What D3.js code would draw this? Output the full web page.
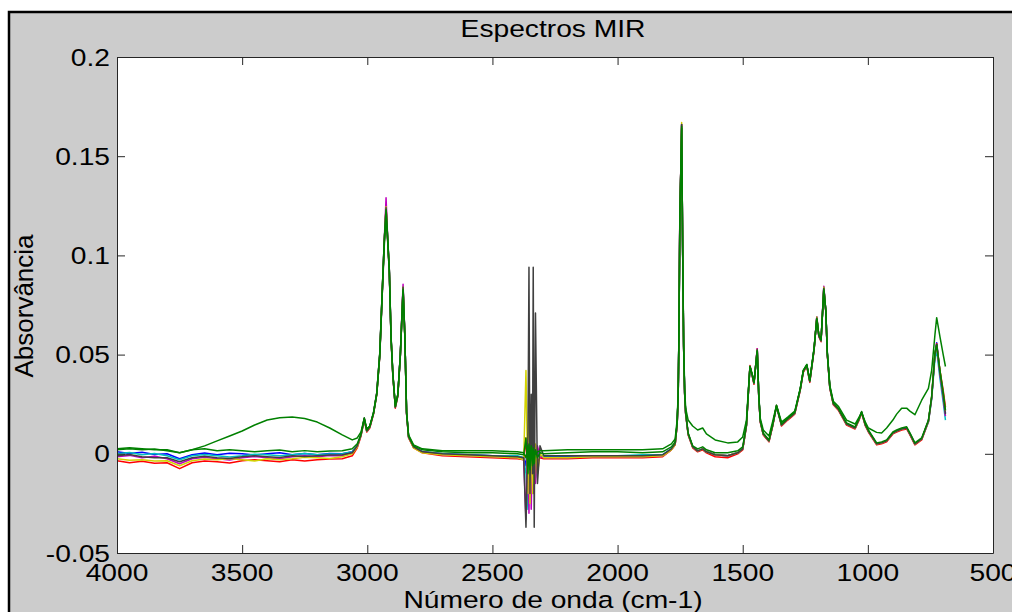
<!DOCTYPE html>
<html>
<head>
<meta charset="utf-8">
<script src="https://cdn.jsdelivr.net/npm/d3@7"></script>
<style>
  html, body { margin: 0; padding: 0; background: #ffffff; overflow: hidden; }
  svg { display: block; }
</style>
</head>
<body>
<svg id="chart" width="1012" height="612"></svg>
<script>
// wavenumbers (cm-1), shared by every spectrum
const wavenumbers = [
  4000, 3950, 3900, 3850, 3800, 3750, 3700, 3650, 3600, 3550, 3500, 3450, 3400, 3350, 3300, 3250, 3200, 3150,
  3100, 3060, 3040, 3025, 3012, 3002, 2990, 2975, 2962, 2950,
  2940, 2932, 2925, 2919, 2912, 2905, 2898, 2888, 2878, 2868,
  2857, 2850, 2843, 2835, 2815, 2780, 2700, 2600, 2500, 2400,
  2375, 2366, 2358, 2354, 2350, 2345, 2340, 2337, 2333, 2328,
  2320, 2310, 2295, 2200, 2100, 2000, 1900, 1820, 1785, 1770,
  1762, 1758, 1755, 1751, 1747, 1744, 1740, 1736, 1732, 1728,
  1718, 1700, 1680, 1660, 1645, 1610, 1560, 1520, 1500, 1485,
  1478, 1471, 1462, 1455, 1442, 1436, 1430, 1418, 1395, 1380,
  1365, 1345, 1320, 1292, 1270, 1258, 1244, 1232, 1215, 1204,
  1196, 1187, 1176, 1168, 1162, 1152, 1138, 1118, 1085, 1051,
  1035, 1025, 1010, 998, 965, 945, 925, 900, 885, 865,
  845, 832, 812, 785, 758, 745, 732, 725, 712, 699,
  690
];

const spectrumBlue = [
  0.0010, 0.0002, 0.0008, -0.0004, 0.0000, -0.0025, -0.0005, 0.0004, -0.0005, 0.0003, 0.0000, -0.0006, 0.0000, 0.0005, -0.0005, 0.0002, -0.0005, 0.0002,
  0.0000, 0.0010, 0.0040, 0.0095, 0.0175, 0.0115, 0.0135, 0.0205, 0.0305, 0.0500,
  0.0820, 0.1070, 0.1240, 0.1090, 0.0920, 0.0580, 0.0400, 0.0235, 0.0295, 0.0495,
  0.0840, 0.0595, 0.0205, 0.0085, 0.0035, 0.0010, 0.0000, -0.0005, -0.0010, -0.0015,
  -0.0020, -0.0060, 0.0100, -0.0120, 0.0060, -0.0100, 0.0050, -0.0080, 0.0040, -0.0050,
  0.0020, -0.0010, -0.0015, -0.0015, -0.0010, -0.0010, -0.0010, -0.0005, 0.0025, 0.0050,
  0.0150, 0.0285, 0.0575, 0.1220, 0.1440, 0.1660, 0.1035, 0.0535, 0.0305, 0.0205,
  0.0100, 0.0035, 0.0015, 0.0025, 0.0010, -0.0005, -0.0010, 0.0005, 0.0025, 0.0145,
  0.0295, 0.0435, 0.0395, 0.0355, 0.0525, 0.0295, 0.0165, 0.0100, 0.0065, 0.0145,
  0.0245, 0.0145, 0.0175, 0.0205, 0.0325, 0.0415, 0.0445, 0.0365, 0.0525, 0.0690,
  0.0595, 0.0570, 0.0840, 0.0720, 0.0505, 0.0335, 0.0252, 0.0225, 0.0150, 0.0130,
  0.0175, 0.0210, 0.0145, 0.0115, 0.0050, 0.0055, 0.0065, 0.0105, 0.0115, 0.0125,
  0.0130, 0.0100, 0.0050, 0.0075, 0.0165, 0.0285, 0.0505, 0.0560, 0.0415, 0.0300,
  0.0205
];

const spectrumRed = [
  -0.0035, -0.0045, -0.0038, -0.0048, -0.0045, -0.0075, -0.0045, -0.0036, -0.0040, -0.0046, -0.0035, -0.0030, -0.0035, -0.0040, -0.0030, -0.0036, -0.0030, -0.0026,
  -0.0025, -0.0010, 0.0030, 0.0090, 0.0170, 0.0110, 0.0130, 0.0200, 0.0300, 0.0495,
  0.0815, 0.1065, 0.1250, 0.1085, 0.0915, 0.0575, 0.0395, 0.0230, 0.0290, 0.0490,
  0.0835, 0.0590, 0.0200, 0.0080, 0.0030, 0.0005, -0.0010, -0.0015, -0.0020, -0.0025,
  -0.0030, 0.0080, -0.0150, 0.0070, -0.0200, 0.0050, -0.0120, 0.0060, -0.0080, 0.0030,
  -0.0040, -0.0020, -0.0025, -0.0025, -0.0020, -0.0020, -0.0020, -0.0015, 0.0020, 0.0045,
  0.0145, 0.0280, 0.0570, 0.1230, 0.1445, 0.1655, 0.1030, 0.0530, 0.0300, 0.0200,
  0.0095, 0.0030, 0.0010, 0.0020, 0.0005, -0.0015, -0.0020, 0.0000, 0.0020, 0.0140,
  0.0290, 0.0445, 0.0390, 0.0350, 0.0530, 0.0290, 0.0160, 0.0095, 0.0060, 0.0140,
  0.0240, 0.0140, 0.0170, 0.0200, 0.0320, 0.0410, 0.0440, 0.0360, 0.0520, 0.0685,
  0.0590, 0.0565, 0.0835, 0.0715, 0.0500, 0.0330, 0.0247, 0.0220, 0.0145, 0.0125,
  0.0170, 0.0205, 0.0140, 0.0110, 0.0045, 0.0050, 0.0060, 0.0100, 0.0110, 0.0120,
  0.0125, 0.0095, 0.0045, 0.0070, 0.0160, 0.0280, 0.0500, 0.0555, 0.0420, 0.0320,
  0.0235
];

const spectrumCyan = [
  0.0000, 0.0006, -0.0005, 0.0002, -0.0010, -0.0030, -0.0010, -0.0003, -0.0010, -0.0016, -0.0010, -0.0002, -0.0005, -0.0010, -0.0005, 0.0001, -0.0005, -0.0001,
  0.0000, 0.0010, 0.0040, 0.0095, 0.0175, 0.0115, 0.0135, 0.0205, 0.0305, 0.0505,
  0.0825, 0.1075, 0.1235, 0.1095, 0.0925, 0.0585, 0.0405, 0.0235, 0.0295, 0.0495,
  0.0835, 0.0595, 0.0205, 0.0085, 0.0035, 0.0010, 0.0000, -0.0005, -0.0010, -0.0010,
  -0.0020, -0.0100, -0.0280, 0.0050, -0.0150, -0.0220, 0.0040, -0.0180, 0.0020, -0.0120,
  0.0010, -0.0010, -0.0010, -0.0010, -0.0010, -0.0010, -0.0005, -0.0005, 0.0025, 0.0050,
  0.0150, 0.0285, 0.0575, 0.1225, 0.1445, 0.1660, 0.1035, 0.0535, 0.0305, 0.0205,
  0.0100, 0.0035, 0.0015, 0.0025, 0.0010, -0.0005, -0.0010, 0.0005, 0.0025, 0.0145,
  0.0295, 0.0440, 0.0395, 0.0355, 0.0525, 0.0295, 0.0165, 0.0100, 0.0065, 0.0145,
  0.0240, 0.0145, 0.0175, 0.0205, 0.0325, 0.0415, 0.0445, 0.0365, 0.0525, 0.0685,
  0.0595, 0.0570, 0.0835, 0.0720, 0.0505, 0.0335, 0.0252, 0.0225, 0.0150, 0.0130,
  0.0175, 0.0210, 0.0145, 0.0115, 0.0050, 0.0055, 0.0065, 0.0105, 0.0115, 0.0125,
  0.0130, 0.0100, 0.0050, 0.0075, 0.0160, 0.0275, 0.0480, 0.0520, 0.0380, 0.0260,
  0.0170
];

const spectrumMagenta = [
  -0.0015, -0.0008, -0.0020, -0.0012, -0.0025, -0.0050, -0.0025, -0.0018, -0.0025, -0.0031, -0.0020, -0.0014, -0.0020, -0.0025, -0.0015, -0.0010, -0.0015, -0.0008,
  -0.0010, 0.0005, 0.0035, 0.0095, 0.0180, 0.0115, 0.0135, 0.0205, 0.0310, 0.0505,
  0.0825, 0.1080, 0.1290, 0.1100, 0.0930, 0.0590, 0.0405, 0.0235, 0.0295, 0.0500,
  0.0855, 0.0600, 0.0205, 0.0085, 0.0035, 0.0010, -0.0005, -0.0010, -0.0015, -0.0020,
  -0.0030, -0.0330, 0.0100, -0.0300, 0.0080, -0.0280, 0.0050, -0.0200, 0.0060, -0.0150,
  0.0040, -0.0015, -0.0020, -0.0020, -0.0015, -0.0015, -0.0015, -0.0010, 0.0020, 0.0045,
  0.0145, 0.0280, 0.0580, 0.1250, 0.1450, 0.1660, 0.1040, 0.0540, 0.0305, 0.0205,
  0.0100, 0.0035, 0.0015, 0.0025, 0.0010, -0.0005, -0.0010, 0.0005, 0.0025, 0.0145,
  0.0295, 0.0440, 0.0395, 0.0355, 0.0530, 0.0295, 0.0165, 0.0100, 0.0065, 0.0145,
  0.0240, 0.0145, 0.0175, 0.0205, 0.0325, 0.0415, 0.0445, 0.0365, 0.0525, 0.0690,
  0.0595, 0.0570, 0.0845, 0.0720, 0.0505, 0.0335, 0.0252, 0.0225, 0.0150, 0.0130,
  0.0175, 0.0210, 0.0145, 0.0115, 0.0050, 0.0055, 0.0065, 0.0105, 0.0115, 0.0125,
  0.0130, 0.0100, 0.0050, 0.0075, 0.0165, 0.0285, 0.0500, 0.0545, 0.0400, 0.0280,
  0.0190
];

const spectrumYellow = [
  -0.0025, -0.0033, -0.0030, -0.0036, -0.0035, -0.0060, -0.0035, -0.0026, -0.0030, -0.0024, -0.0030, -0.0036, -0.0025, -0.0030, -0.0025, -0.0018, -0.0020, -0.0024,
  -0.0015, 0.0000, 0.0035, 0.0095, 0.0175, 0.0115, 0.0135, 0.0205, 0.0305, 0.0505,
  0.0825, 0.1075, 0.1245, 0.1095, 0.0925, 0.0585, 0.0405, 0.0235, 0.0295, 0.0495,
  0.0840, 0.0595, 0.0205, 0.0085, 0.0030, 0.0005, -0.0005, -0.0010, -0.0015, -0.0020,
  -0.0030, 0.0420, -0.0200, 0.0300, -0.0250, 0.0150, -0.0200, 0.0100, -0.0150, 0.0050,
  -0.0100, 0.0000, -0.0020, -0.0020, -0.0015, -0.0015, -0.0015, -0.0010, 0.0020, 0.0045,
  0.0150, 0.0285, 0.0575, 0.1225, 0.1445, 0.1670, 0.1040, 0.0535, 0.0305, 0.0205,
  0.0100, 0.0035, 0.0015, 0.0025, 0.0010, -0.0005, -0.0010, 0.0005, 0.0025, 0.0145,
  0.0295, 0.0440, 0.0395, 0.0355, 0.0525, 0.0295, 0.0165, 0.0100, 0.0065, 0.0145,
  0.0245, 0.0145, 0.0175, 0.0205, 0.0325, 0.0415, 0.0445, 0.0365, 0.0525, 0.0690,
  0.0600, 0.0570, 0.0840, 0.0720, 0.0505, 0.0335, 0.0252, 0.0225, 0.0150, 0.0130,
  0.0175, 0.0210, 0.0145, 0.0115, 0.0050, 0.0055, 0.0065, 0.0105, 0.0115, 0.0125,
  0.0130, 0.0100, 0.0050, 0.0075, 0.0165, 0.0290, 0.0510, 0.0540, 0.0420, 0.0300,
  0.0215
];

const spectrumBlack = [
  -0.0010, -0.0004, -0.0015, -0.0020, -0.0020, -0.0040, -0.0020, -0.0012, -0.0020, -0.0024, -0.0015, -0.0010, -0.0015, -0.0019, -0.0010, -0.0014, -0.0010, -0.0006,
  -0.0005, 0.0005, 0.0040, 0.0095, 0.0175, 0.0115, 0.0135, 0.0205, 0.0305, 0.0505,
  0.0825, 0.1075, 0.1240, 0.1095, 0.0925, 0.0585, 0.0405, 0.0235, 0.0295, 0.0495,
  0.0840, 0.0595, 0.0205, 0.0085, 0.0035, 0.0010, 0.0000, -0.0005, -0.0010, -0.0015,
  -0.0020, -0.0370, 0.0100, 0.0940, -0.0200, 0.0300, -0.0100, 0.0940, -0.0370, 0.0710,
  -0.0150, 0.0040, -0.0010, -0.0010, -0.0010, -0.0010, -0.0010, -0.0005, 0.0025, 0.0050,
  0.0150, 0.0285, 0.0575, 0.1225, 0.1445, 0.1660, 0.1035, 0.0535, 0.0305, 0.0205,
  0.0100, 0.0035, 0.0015, 0.0025, 0.0010, -0.0005, -0.0010, 0.0005, 0.0025, 0.0145,
  0.0295, 0.0440, 0.0395, 0.0355, 0.0525, 0.0295, 0.0165, 0.0100, 0.0065, 0.0145,
  0.0240, 0.0145, 0.0175, 0.0205, 0.0325, 0.0415, 0.0445, 0.0365, 0.0525, 0.0685,
  0.0595, 0.0570, 0.0835, 0.0720, 0.0505, 0.0335, 0.0252, 0.0225, 0.0150, 0.0130,
  0.0175, 0.0210, 0.0145, 0.0115, 0.0050, 0.0055, 0.0065, 0.0105, 0.0115, 0.0125,
  0.0130, 0.0100, 0.0050, 0.0075, 0.0165, 0.0285, 0.0500, 0.0550, 0.0410, 0.0295,
  0.0200
];

// the odd sample with the broad O-H hump
const spectrumGreenHump = [
  0.0020, 0.0026, 0.0020, 0.0024, 0.0015, 0.0005, 0.0020, 0.0040, 0.0065, 0.0090, 0.0115, 0.0145, 0.0170, 0.0182, 0.0185, 0.0178, 0.0160, 0.0130,
  0.0095, 0.0070, 0.0080, 0.0110, 0.0180, 0.0125, 0.0140, 0.0205, 0.0300, 0.0495,
  0.0810, 0.1050, 0.1200, 0.1080, 0.0915, 0.0580, 0.0400, 0.0240, 0.0300, 0.0495,
  0.0820, 0.0590, 0.0210, 0.0095, 0.0045, 0.0025, 0.0015, 0.0015, 0.0015, 0.0010,
  0.0005, -0.0020, 0.0040, -0.0040, 0.0030, -0.0020, 0.0020, -0.0010, 0.0010, 0.0000,
  0.0010, 0.0015, 0.0015, 0.0020, 0.0020, 0.0020, 0.0020, 0.0025, 0.0050, 0.0075,
  0.0170, 0.0300, 0.0590, 0.1200, 0.1440, 0.1640, 0.1050, 0.0560, 0.0330, 0.0230,
  0.0170, 0.0140, 0.0120, 0.0130, 0.0100, 0.0070, 0.0055, 0.0060, 0.0085, 0.0170,
  0.0310, 0.0440, 0.0400, 0.0360, 0.0515, 0.0300, 0.0180, 0.0120, 0.0090, 0.0165,
  0.0245, 0.0160, 0.0185, 0.0215, 0.0330, 0.0420, 0.0450, 0.0370, 0.0530, 0.0680,
  0.0600, 0.0575, 0.0820, 0.0720, 0.0510, 0.0345, 0.0265, 0.0240, 0.0170, 0.0150,
  0.0185, 0.0205, 0.0160, 0.0130, 0.0108, 0.0105, 0.0130, 0.0170, 0.0200, 0.0230,
  0.0230, 0.0215, 0.0197, 0.0270, 0.0330, 0.0420, 0.0600, 0.0686, 0.0590, 0.0500,
  0.0440
];

const spectrumGreen = [
  0.0025, 0.0031, 0.0025, 0.0020, 0.0020, 0.0005, 0.0020, 0.0026, 0.0015, 0.0021, 0.0015, 0.0010, 0.0015, 0.0019, 0.0010, 0.0016, 0.0010, 0.0014,
  0.0015, 0.0025, 0.0050, 0.0100, 0.0180, 0.0120, 0.0140, 0.0210, 0.0310, 0.0510,
  0.0830, 0.1080, 0.1230, 0.1100, 0.0930, 0.0590, 0.0410, 0.0240, 0.0300, 0.0500,
  0.0830, 0.0600, 0.0210, 0.0090, 0.0040, 0.0020, 0.0010, 0.0005, 0.0005, 0.0000,
  -0.0005, 0.0080, -0.0100, 0.0050, -0.0080, 0.0040, -0.0060, 0.0030, -0.0050, 0.0020,
  -0.0020, 0.0005, 0.0000, 0.0005, 0.0010, 0.0010, 0.0005, 0.0010, 0.0035, 0.0060,
  0.0155, 0.0290, 0.0580, 0.1200, 0.1450, 0.1650, 0.1040, 0.0540, 0.0310, 0.0210,
  0.0105, 0.0040, 0.0025, 0.0035, 0.0020, 0.0005, 0.0005, 0.0015, 0.0035, 0.0150,
  0.0300, 0.0440, 0.0400, 0.0360, 0.0520, 0.0300, 0.0170, 0.0105, 0.0070, 0.0150,
  0.0240, 0.0150, 0.0180, 0.0210, 0.0330, 0.0420, 0.0450, 0.0370, 0.0530, 0.0680,
  0.0600, 0.0575, 0.0830, 0.0726, 0.0510, 0.0340, 0.0257, 0.0230, 0.0156, 0.0136,
  0.0180, 0.0213, 0.0150, 0.0120, 0.0055, 0.0060, 0.0070, 0.0110, 0.0120, 0.0130,
  0.0136, 0.0106, 0.0055, 0.0080, 0.0170, 0.0290, 0.0510, 0.0550, 0.0420, 0.0310,
  0.0220
];

const xTickValues = [4000, 3500, 3000, 2500, 2000, 1500, 1000, 500];
const yTickValues = [-0.05, 0, 0.05, 0.1, 0.15, 0.2];

const titleText = "Espectros MIR";
const xLabelText = "Número de onda (cm-1)";
const yLabelText = "Absorvância";

// drawing order follows matlab's colour cycle, green ends on top
const spectra = [
  { values: spectrumBlue, color: "#0000ff" },
  { values: spectrumRed, color: "#ff0000" },
  { values: spectrumCyan, color: "#00bfbf" },
  { values: spectrumMagenta, color: "#bf00bf" },
  { values: spectrumYellow, color: "#d2d200" },
  { values: spectrumBlack, color: "#404040" },
  { values: spectrumGreenHump, color: "#008000" },
  { values: spectrumGreen, color: "#008000" }
];

const width = 1012;
const height = 612;
const margin = { left: 117, right: 993, top: 57, bottom: 553 };
const font = "'Liberation Sans', Arial, Helvetica, sans-serif";
const fontSize = 23.5;
const stretch = 1.2;
const tickLen = 8;

const svg = d3.select("#chart");

// figure background, only the top and left frame edges are in view
svg.append("rect")
  .attr("width", width).attr("height", height).attr("fill", "#ffffff");
svg.append("rect")
  .attr("x", 9).attr("y", 12)
  .attr("width", width + 100).attr("height", height + 100)
  .attr("fill", "#cccccc")
  .attr("stroke", "#000000")
  .attr("stroke-width", 2.5);

const x = d3.scaleLinear().domain([4000, 500]).range([margin.left, margin.right]);
const y = d3.scaleLinear().domain([-0.05, 0.2]).range([margin.bottom, margin.top]);

svg.append("rect")
  .attr("x", margin.left).attr("y", margin.top)
  .attr("width", margin.right - margin.left)
  .attr("height", margin.bottom - margin.top)
  .attr("fill", "#ffffff");

svg.append("clipPath").attr("id", "plot-clip")
  .append("rect")
  .attr("x", margin.left).attr("y", margin.top)
  .attr("width", margin.right - margin.left)
  .attr("height", margin.bottom - margin.top);

const line = d3.line()
  .x((d) => x(d[0]))
  .y((d) => y(d[1]));

svg.append("g")
  .attr("clip-path", "url(#plot-clip)")
  .selectAll("path")
  .data(spectra)
  .join("path")
  .attr("fill", "none")
  .attr("stroke", (d) => d.color)
  .attr("stroke-width", 1.5)
  .attr("stroke-linejoin", "round")
  .attr("d", (d) => line(d3.zip(wavenumbers, d.values)));

// axes on all four sides, ticks pointing inward
const axisColor = "#262626";
const fmt = (v) => String(+v.toFixed(2));

const bottomAxis = d3.axisBottom(x).tickValues(xTickValues).tickSizeInner(-tickLen).tickSizeOuter(0).tickFormat("");
const topAxis = d3.axisTop(x).tickValues(xTickValues).tickSizeInner(-tickLen).tickSizeOuter(0).tickFormat("");
const leftAxis = d3.axisLeft(y).tickValues(yTickValues).tickSizeInner(-tickLen).tickSizeOuter(0).tickFormat("");
const rightAxis = d3.axisRight(y).tickValues(yTickValues).tickSizeInner(-tickLen).tickSizeOuter(0).tickFormat("");

[
  [bottomAxis, `translate(0,${margin.bottom})`],
  [topAxis, `translate(0,${margin.top})`],
  [leftAxis, `translate(${margin.left},0)`],
  [rightAxis, `translate(${margin.right},0)`]
].forEach(([axis, tr]) => {
  const g = svg.append("g").attr("transform", tr).call(axis);
  g.selectAll("path, line").attr("stroke", axisColor).attr("stroke-width", 1);
});

// tick labels (stretched a little, like the reference)
svg.append("g")
  .selectAll("text")
  .data(xTickValues)
  .join("text")
  .attr("transform", (d) => `translate(${x(d)},581) scale(${stretch},1)`)
  .attr("text-anchor", "middle")
  .style("font-family", font)
  .style("font-size", fontSize + "px")
  .attr("fill", "#000000")
  .text((d) => d);

svg.append("g")
  .selectAll("text")
  .data(yTickValues)
  .join("text")
  .attr("transform", (d) => `translate(110,${y(d) + 8.5}) scale(${stretch},1)`)
  .attr("text-anchor", "end")
  .style("font-family", font)
  .style("font-size", fontSize + "px")
  .attr("fill", "#000000")
  .text(fmt);

svg.append("text")
  .attr("transform", `translate(${(margin.left + margin.right) / 2 - 2},37) scale(${stretch},1)`)
  .attr("text-anchor", "middle")
  .style("font-family", font)
  .style("font-size", fontSize + "px")
  .attr("fill", "#000000")
  .text(titleText);

svg.append("text")
  .attr("transform", `translate(${(margin.left + margin.right) / 2 - 2},608) scale(${stretch},1)`)
  .attr("text-anchor", "middle")
  .style("font-family", font)
  .style("font-size", fontSize + "px")
  .attr("fill", "#000000")
  .text(xLabelText);

svg.append("text")
  .attr("transform", `translate(33,306) rotate(-90)`)
  .attr("text-anchor", "middle")
  .style("font-family", font)
  .style("font-size", "26px")
  .attr("fill", "#000000")
  .text(yLabelText);
</script>
</body>
</html>
